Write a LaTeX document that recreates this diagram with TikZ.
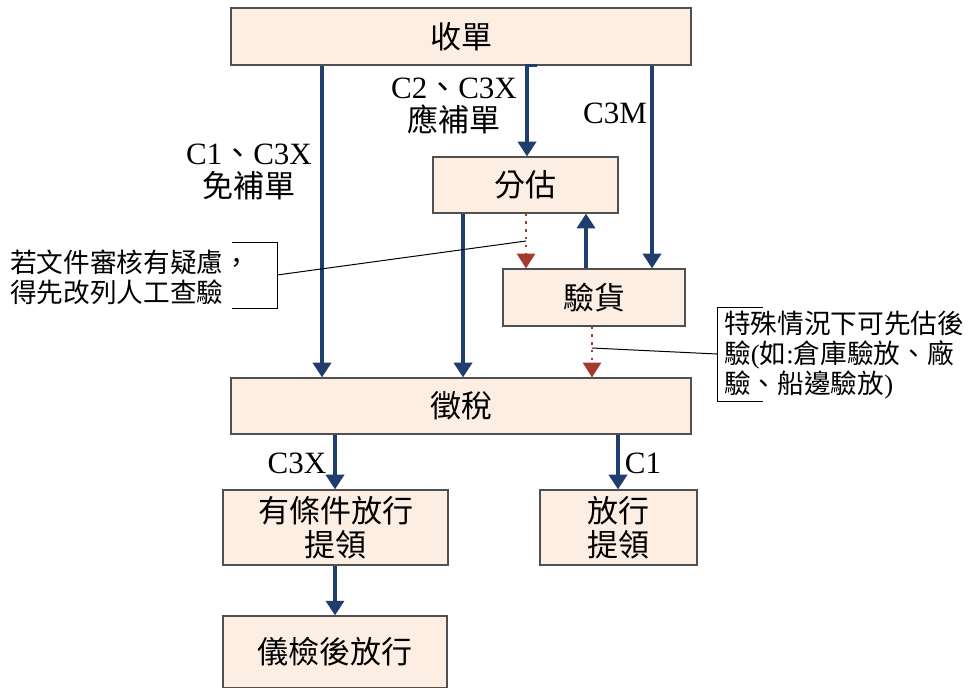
\documentclass[tikz,border=0pt]{standalone}
\usepackage{fontspec}
\setmainfont{Liberation Serif}
\newfontfamily\cjk{Noto Sans CJK TC}
\usetikzlibrary{arrows.meta}
\definecolor{boxfill}{HTML}{FDEEE4}
\definecolor{navy}{HTML}{1F3E6D}
\definecolor{dotred}{HTML}{A3392F}
\definecolor{boxline}{HTML}{505050}
\begin{document}
\begin{tikzpicture}[x=0.75pt,y=-0.75pt,
  box/.style={draw=boxline, line width=0.9pt, fill=boxfill, inner sep=0pt,
    font=\cjk\fontsize{23.25pt}{25.5pt}\selectfont, align=center},
  W/.style={minimum width=#1*0.75pt},
  H/.style={minimum height=#1*0.75pt},
  flow/.style={draw=navy, line width=2.6pt, -{Triangle[length=11pt,width=13.5pt]}},
  dotarrow/.style={draw=dotred, line width=1.7pt, dash pattern=on 1.7pt off 4.2pt,
    -{Triangle[length=11pt,width=13.5pt,fill=dotred]}},
  lab/.style={font=\fontsize{23.25pt}{25pt}\selectfont, align=center, inner sep=0pt},
  note/.style={font=\fontsize{20pt}{22.5pt}\selectfont, align=left, inner sep=0pt},
  thinline/.style={draw=black, line width=0.75pt}]
\useasboundingbox (0,0) rectangle (973,687);
\clip (0,0) rectangle (973,687);

% boxes
\node[box, W=460, H=57] (sd) at (461,36.5) {收單};
\node[box, W=185, H=56] (fg) at (525.5,185) {分估};
\node[box, W=182, H=57] (yh) at (594,297.5) {驗貨};
\node[box, W=460, H=56] (zs) at (461,406) {徵稅};
\node[box, W=225, H=75] (tj) at (335.5,527.5) {有條件放行\\提領};
\node[box, W=157, H=75] (fx) at (618.5,527.5) {放行\\提領};
\node[box, W=224, H=72] (yj) at (335,652) {儀檢後放行};

% flows
\draw[flow] (sd.south -| 322,0) -- (zs.north -| 322,0);
\draw[flow] ([xshift=76*0.75pt]sd.south) -| ([xshift=1.5*0.75pt]fg.north);
\draw[flow] (sd.south -| 652,0) -- (yh.north -| 652,0);
\draw[flow] (fg.south -| 463,0) -- (zs.north -| 463,0);
\draw[flow] (yh.north -| 586,0) -- (fg.south -| 586,0);
\draw[dotarrow] (fg.south -| 526,0) -- (yh.north -| 526,0);
\draw[dotarrow] (yh.south -| 592,0) -- (zs.north -| 592,0);
\draw[flow] (zs.south -| 335,0) -- (tj.north -| 335,0);
\draw[flow] (zs.south -| 618,0) -- (fx.north -| 618,0);
\draw[flow] (tj.south -| 335,0) -- (yj.north -| 335,0);

% labels
\node[lab] (l1) at (249,172) {C1{\cjk 、}C3X\\{\cjk 免補單}};
\node[lab] (l2) at (454,106) {C2{\cjk 、}C3X\\{\cjk 應補單}};
\node[lab] (l3) at (615,113) {C3M};
\node[lab] (l4) at (297,463) {C3X};
\node[lab] (l5) at (643,463) {C1};

% callout 1
\node[note, anchor=west] (n1) at (10,277) {\cjk 若文件審核有疑慮，\\\cjk 得先改列人工查驗};
\coordinate (b1a) at (232,242);
\coordinate (b1b) at (277,242);
\coordinate (b1c) at (277,308);
\coordinate (b1d) at (232,308);
\coordinate (b1m) at (277,275);
\coordinate (p1) at (526,241);
\draw[thinline] (b1a) -- (b1b) -- (b1c) -- (b1d);
\draw[thinline] (b1m) -- (p1);

% callout 2
\node[note, anchor=west] (n2) at (724,355) {{\cjk 特殊情況下可先估後}\\{\cjk 驗}(\cjk 如\rmfamily:{\cjk 倉庫驗放、廠}\\{\cjk 驗、船邊驗放})};
\coordinate (b2a) at (763,307);
\coordinate (b2b) at (717,307);
\coordinate (b2c) at (717,401);
\coordinate (b2d) at (763,401);
\coordinate (b2m) at (717,354);
\coordinate (p2) at (592,348);
\draw[thinline] (b2a) -- (b2b) -- (b2c) -- (b2d);
\draw[thinline] (b2m) -- (p2);
\end{tikzpicture}
\end{document}
